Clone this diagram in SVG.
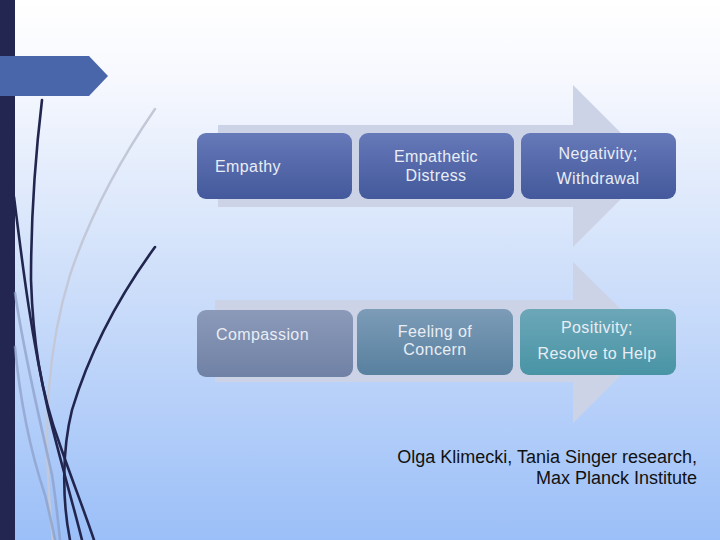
<svg xmlns="http://www.w3.org/2000/svg" width="720" height="540" viewBox="0 0 720 540">
<defs>
<linearGradient id="bg" x1="0" y1="0" x2="0" y2="1">
<stop offset="0" stop-color="#ffffff"/>
<stop offset="0.15" stop-color="#f6f8fe"/>
<stop offset="0.5" stop-color="#d0e0fa"/>
<stop offset="1" stop-color="#9bbff8"/>
</linearGradient>
<linearGradient id="gBlue" x1="0" y1="0" x2="0" y2="1">
<stop offset="0" stop-color="#6679b9"/>
<stop offset="1" stop-color="#43599b"/>
</linearGradient>
<linearGradient id="gGray" x1="0" y1="0" x2="0" y2="1">
<stop offset="0" stop-color="#8c9ab9"/>
<stop offset="1" stop-color="#6f81a5"/>
</linearGradient>
<linearGradient id="gSteel" x1="0" y1="0" x2="0" y2="1">
<stop offset="0" stop-color="#7c9cb7"/>
<stop offset="1" stop-color="#58809f"/>
</linearGradient>
<linearGradient id="gTeal" x1="0" y1="0" x2="0" y2="1">
<stop offset="0" stop-color="#6ca7b8"/>
<stop offset="1" stop-color="#4894a5"/>
</linearGradient>
</defs>
<style>
.lbl{font-family:"Liberation Sans",Arial,sans-serif;font-size:16px;letter-spacing:0.4px;fill:#e9edf5}
.mid{text-anchor:middle}
.cite{font-family:"Liberation Sans",Arial,sans-serif;font-size:18px;fill:#111111;text-anchor:end}
.arrow{fill:#cdd3e6}
.dk{fill:none;stroke:#22264f;stroke-width:2.6;stroke-linecap:round}
.lt{fill:none;stroke:#c3c8d8;stroke-width:2.4;stroke-linecap:round}
.bl{fill:none;stroke:#8a9cc6;stroke-width:2.6;stroke-linecap:round;opacity:0.7}
</style>
<rect width="720" height="540" fill="url(#bg)"/>
<rect x="0" y="0" width="15" height="540" fill="#232650"/>
<polygon points="0,56 89,56 108,76 89,96 0,96" fill="#4a66ab"/>
<g id="decor">
<path class="lt" d="M155,109 C120,160 90,215 70,275 C50,340 40,420 53,540"/>
<path class="bl" d="M15,293 C25,360 40,420 52,475 C56,500 58,520 60,540"/>
<path class="bl" d="M15,347 C20,400 30,450 45,495 C50,515 53,530 55,540"/>
<path class="dk" d="M42,100 C36,150 31,220 31,280 C33,340 40,390 60,445 C72,480 84,510 94,540"/>
<path class="dk" d="M14,197 C22,260 30,330 48,410 C60,460 72,500 82,540"/>
<path class="dk" d="M155,247 C120,295 90,350 72,410 C62,450 62,500 70,540"/>
</g>
<g id="arrows">
<polygon class="arrow" points="218,125 573,125 573,85 654,166 573,247 573,207 218,207"/>
<polygon class="arrow" points="215,300 573,300 573,262 654,342 573,423 573,382 215,382"/>
</g>
<g id="empathy"><rect x="197" y="133" width="155" height="66" rx="9" fill="url(#gBlue)"/><text class="lbl" x="215" y="172">Empathy</text></g>
<g id="distress"><rect x="359" y="133" width="155" height="66" rx="9" fill="url(#gBlue)"/><text class="lbl mid" x="436" y="162">Empathetic</text><text class="lbl mid" x="436" y="181">Distress</text></g>
<g id="negativity"><rect x="521" y="133" width="155" height="66" rx="9" fill="url(#gBlue)"/><text class="lbl mid" x="598" y="159">Negativity;</text><text class="lbl mid" x="598" y="184">Withdrawal</text></g>
<g id="compassion"><rect x="197" y="310" width="156" height="67" rx="9" fill="url(#gGray)"/><text class="lbl" x="216" y="340">Compassion</text></g>
<g id="concern"><rect x="357" y="309" width="156" height="66" rx="9" fill="url(#gSteel)"/><text class="lbl mid" x="435" y="337">Feeling of</text><text class="lbl mid" x="435" y="355">Concern</text></g>
<g id="positivity"><rect x="520" y="309" width="156" height="66" rx="9" fill="url(#gTeal)"/><text class="lbl mid" x="597" y="333">Positivity;</text><text class="lbl mid" x="597" y="359">Resolve to Help</text></g>
<g id="citation"><text class="cite" x="697" y="463">Olga Klimecki, Tania Singer research,</text><text class="cite" x="697" y="484">Max Planck Institute</text></g>
</svg>
